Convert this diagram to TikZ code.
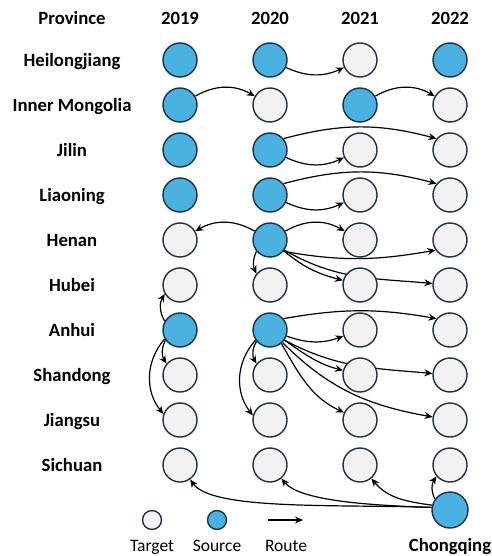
\documentclass[tikz,border=0pt]{standalone}
\usepackage{fontspec}
\setmainfont{Carlito}
\usepackage{tikz}
\usepackage{xcolor}
\usetikzlibrary{arrows.meta, backgrounds}

\definecolor{srcblue}{HTML}{4AB1E0}
\definecolor{tgtgray}{HTML}{F2F2F2}
\definecolor{rim}{HTML}{1C3144}

\begin{document}
\begin{tikzpicture}[
    x=1pt, y=1pt,
    target/.style={circle, draw=rim, fill=tgtgray, line width=1.4pt, minimum size=34pt, inner sep=0pt},
    source/.style={target, fill=srcblue},
    head/.style={anchor=base, font=\fontsize{18.7}{22}\selectfont\bfseries},
    legendtext/.style={anchor=base, font=\fontsize{17.5}{20}\selectfont},
    route/.style={-{Stealth[length=8pt, width=7pt]}, line width=1.2pt}
]
\useasboundingbox (0,0) rectangle (491,-556);

% Header
\node[head] (prov) at (72,-25) {Province};
\foreach \yr [count=\j] in {2019,2020,2021,2022}
    \node[head] (yr\j) at (90+90*\j,-25) {\yr};

% Provinces
\foreach \p/\name/\fa/\fb/\fc/\fd [count=\i] in {
    hlj/Heilongjiang/source/source/target/source,
    nmg/Inner Mongolia/source/target/source/target,
    jl/Jilin/source/source/target/target,
    ln/Liaoning/source/source/target/target,
    hen/Henan/target/source/target/target,
    hub/Hubei/target/target/target/target,
    ah/Anhui/source/source/target/target,
    sd/Shandong/target/target/target/target,
    js/Jiangsu/target/target/target/target,
    sc/Sichuan/target/target/target/target}
{
    \node[head] (\p) at (72,-21.5-45*\i) {\name};
    \node[\fa] (\p19) at (180,-15-45*\i) {};
    \node[\fb] (\p20) at (270,-15-45*\i) {};
    \node[\fc] (\p21) at (360,-15-45*\i) {};
    \node[\fd] (\p22) at (450,-15-45*\i) {};
}

\node[source, minimum size=36pt] (cq) at (450,-510) {};

% Routes
\begin{scope}[on background layer]
% from 2019
\draw[route] (nmg19) to[bend left=30] (nmg20);
\draw[route] (ah19.150) to[bend left=30] (hub19.210);
\draw[route] (ah19.-145) to[bend right=30] (sd19.140);
\draw[route] (ah19.-150) to[bend right=40] (js19.160);

% from 2020
\draw[route] (hlj20) to[bend right=25] (hlj21);
\draw[route] (jl20.40) to[out=15, in=165] (jl22.140);
\draw[route] (jl20) to[bend right=25] (jl21);
\draw[route] (ln20.40) to[out=15, in=165] (ln22.140);
\draw[route] (ln20) to[bend right=25] (ln21);

\draw[route] (hen20) to[bend right=30] (hen19);
\draw[route] (hen20) to[bend left=30] (hen21);
\draw[route] (hen20.-140) to[bend right=25] (hub20.140);
\draw[route] (hen20.-40) to[out=-10, in=190] (hen22.-145);
\draw[route] (hen20.-38) to[out=-40, in=165] (hub21);
\draw[route] (hen20.-35) to[out=-30, in=175] (hub22);

\draw[route] (ah20.40) to[out=10, in=170] (ah22.140);
\draw[route] (ah20) to[bend right=20] (ah21);
\draw[route] (ah20.-140) to[bend right=30] (sd20.140);
\draw[route] (ah20.-145) to[bend right=40] (js20.165);
\draw[route] (ah20.-35) to[out=-35, in=165] (sd21);
\draw[route] (ah20.-35) to[out=-28, in=175] (sd22);
\draw[route] (ah20.-50) to[out=-60, in=155] (js21);
\draw[route] (ah20.-45) to[out=-45, in=170] (js22);

% from 2021
\draw[route] (nmg21) to[bend left=30] (nmg22);

% from Chongqing
\draw[route] (cq.172) to[out=178, in=-55, in looseness=0.4] (sc19);
\draw[route] (cq.172) to[out=178, in=-50, in looseness=0.5] (sc20);
\draw[route] (cq.165) to[out=172, in=-50] (sc21);
\draw[route] (cq.144) to[bend left=30] (sc22.-140);
\end{scope}

% Legend
\node[target, minimum size=19pt] (lgtarget) at (152,-520) {};
\node[source, minimum size=19pt] (lgsource) at (217,-520) {};
\coordinate (lgfrom) at (268,-520);
\coordinate (lgto) at (303,-520);
\draw[route] (lgfrom) -- (lgto);

\node[legendtext] (lbltarget) at (152,-551) {Target};
\node[legendtext] (lblsource) at (217,-551) {Source};
\node[legendtext] (lblroute) at (286,-551) {Route};
\node[head] (cqname) at (450,-551) {Chongqing};

\end{tikzpicture}
\end{document}
